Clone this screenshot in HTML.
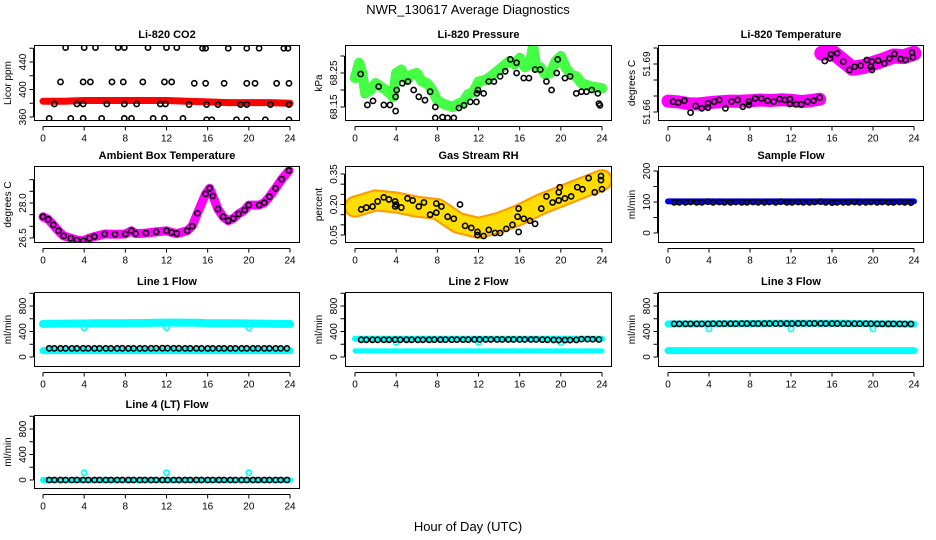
<!DOCTYPE html>
<html><head><meta charset="utf-8"><title>NWR_130617 Average Diagnostics</title>
<style>
html,body{margin:0;padding:0;background:#fff;}
svg{display:block;font-family:"Liberation Sans",Arial,sans-serif;}
</style></head>
<body>
<svg id="chart" width="936" height="540" viewBox="0 0 936 540" xmlns="http://www.w3.org/2000/svg">
<text x="468" y="14" text-anchor="middle" font-size="13">NWR_130617  Average Diagnostics</text>
<text x="468" y="531" text-anchor="middle" font-size="13">Hour of Day (UTC)</text>
</svg>
<script>
// ---- data ----
const xTicks = [0,4,8,12,16,20,24];
const hourly = [0,1,2,3,4,5,6,7,8,9,10,11,12,13,14,15,16,17,18,19,20,21,22,23,24];
const sampleHours = [0.6,1.1,1.7,2.2,2.8,3.3,3.9,4.4,5.0,5.5,6.1,6.6,7.2,7.7,8.3,8.8,9.4,9.9,10.5,11.0,11.6,12.1,12.7,13.2,13.8,14.3,14.9,15.4,16.0,16.5,17.1,17.6,18.2,18.7,19.3,19.8,20.4,20.9,21.5,22.0,22.6,23.1,23.7];

// CO2
const co2BandHours = [0,2,4,6,8,10,12,14,16,18,20,22,24];
const co2Band = [383,383,384,384,384,384,384,383,382,381,381,381,380];
const co2PtHours = [2.2,4,5.1,7.3,7.9,10.2,12,13,15.5,15.8,18,19.8,21,23.4,23.8, 1.7,3.9,4.6,6.7,7.8,9.7,11.8,12.5,14.7,15.8,17.6,19.8,20.6,22.7,23.9, 1.1,3.3,3.9,6.2,7.9,9.1,11.4,11.9,14.2,15.9,17,19.2,19.8,22.1,23.9, 0.6,2.7,3.9,5.7,7.9,8.6,10.7,11.8,13.6,15.9,16.4,18.8,19.8,21.6,23.9];
const co2PtValues = [461,461,461,461,461,461,461,461,460,460,460,460,460,460,460, 411,411,411,411,411,411,411,411,409,409,409,409,409,409,409, 379,379,379,379,379,379,379,379,378,378,378,378,378,378,378, 358,358,358,358,358,358,358,358,358,356,356,356,356,356,356];

// Pressure
const presBandHours = [0,0.4,0.7,1,1.5,2,2.5,3,3.7,4,4.5,5,5.5,6,6.5,7,7.5,8,8.5,9,9.5,10,10.5,11,11.5,12,12.5,13,14,15,15.5,16,16.5,17,17.3,17.6,18,18.5,19,19.5,20,20.5,21,21.5,22,23,24];
const presBand = [68.235,68.28,68.25,68.19,68.2,68.22,68.21,68.2,68.18,68.25,68.26,68.23,68.245,68.25,68.225,68.22,68.2,68.17,68.16,68.155,68.15,68.159,68.165,68.188,68.194,68.225,68.228,68.235,68.26,68.285,68.276,68.294,68.267,68.276,68.33,68.27,68.267,68.245,68.25,68.285,68.3,68.264,68.245,68.24,68.22,68.21,68.205];
const presPtHours = [0.55,1.2,1.75,2.3,2.8,3.4,3.95,3.95,4.05,4.6,5.15,5.7,6.2,6.8,7.3,7.8,7.8,8.5,9,9.6,10.1,10.6,11.2,11.8,11.85,11.95,12.5,13,13.5,14.1,14.6,15.1,15.7,15.7,16.4,16.9,17.5,18,18.6,19.1,19.6,19.7,20.4,20.9,21.5,22,22.5,23,23.6,23.7,23.8];
const presPtValues = [68.247,68.156,68.168,68.21,68.156,68.156,68.138,68.18,68.2,68.22,68.225,68.2,68.18,68.17,68.195,68.15,68.118,68.12,68.118,68.118,68.147,68.155,68.165,68.165,68.19,68.2,68.19,68.225,68.225,68.24,68.255,68.29,68.28,68.25,68.235,68.235,68.26,68.26,68.225,68.2,68.25,68.29,68.235,68.24,68.19,68.195,68.195,68.2,68.19,68.16,68.155];

// Li-820 temperature
const tempLowHours = [0,1,2,3,4,5,6,7,8,9,10,11,12,13,14,14.8];
const tempLow = [51.6668,51.6663,51.6652,51.665,51.6658,51.6664,51.6668,51.6667,51.667,51.6675,51.6672,51.6676,51.6674,51.6665,51.6672,51.668];
const tempHighHours = [15,16,17,18,19,20,21,22,23,24];
const tempHigh = [51.6967,51.6977,51.6925,51.6873,51.6883,51.6904,51.6925,51.695,51.6946,51.6967];
const tempPtHours = [0.5,1,1.6,2.2,2.7,3.3,3.9,3.9,4.5,5,5.6,6.2,6.8,7.3,7.9,7.9,8.5,9.1,9.7,10.3,10.9,11.4,11.9,11.9,12.5,13,13.6,14.2,14.8, 15.3,15.8,15.9,16.5,17.1,17.7,18.2,18.8,19.4,19.8,19.9,19.9,20.5,21.1,21.6,22.1,22.7,23.2,23.8,23.9];
const tempPtValues = [51.6665,51.6658,51.6671,51.6596,51.6638,51.6623,51.6654,51.6627,51.6665,51.6675,51.6623,51.6665,51.6675,51.6633,51.6665,51.6644,51.6685,51.6685,51.6671,51.6665,51.6681,51.6675,51.6681,51.665,51.6648,51.6648,51.6665,51.6671,51.669, 51.6919,51.6935,51.696,51.6967,51.6915,51.6863,51.6883,51.689,51.6925,51.6883,51.6863,51.6915,51.6921,51.6904,51.6935,51.6963,51.6931,51.6925,51.6973,51.6942];

// Ambient box temperature
const ambHours = [0,0.5,1,1.5,2,2.7,3.3,3.9,4.5,5,6,7,8,8.6,9,10,11,12,12.5,13,14,14.5,15,15.8,16.2,16.5,17,17.5,18,18.5,19,19.6,20,21,21.5,22,22.6,23.2,23.9];
const ambValues = [27.41,27.30,27.06,26.81,26.59,26.49,26.41,26.38,26.49,26.56,26.67,26.66,26.67,26.81,26.69,26.71,26.76,26.81,26.74,26.69,26.81,27.01,27.56,28.39,28.63,28.30,27.74,27.41,27.24,27.34,27.53,27.70,27.91,27.91,28.01,28.27,28.63,29.02,29.39];

// Gas stream RH
const rhBandHours = [0,2,4,6,8,10,12,14,16,18,20,22,24];
const rhBand = [0.189,0.22,0.21,0.189,0.178,0.11,0.085,0.11,0.15,0.2,0.24,0.28,0.32];
const rhPtHours = [0.6,1.1,1.7,2.2,2.8,3.3,3.9,3.9,4.0,4.5,5.1,5.6,6.2,6.7,7.3,7.9,7.9,8.4,9.0,9.6,10.2,10.7,11.3,11.9,11.9,12.5,13.0,13.6,14.1,14.7,15.3,15.8,15.9,15.9,16.4,17.0,17.5,18.1,18.6,19.2,19.8,19.8,19.9,20.4,21.0,21.6,22.1,22.7,23.3,23.9,23.9,24];
const rhPtValues = [0.176,0.185,0.19,0.215,0.235,0.225,0.215,0.19,0.2,0.185,0.23,0.22,0.19,0.21,0.15,0.205,0.16,0.19,0.14,0.13,0.2,0.095,0.085,0.065,0.05,0.045,0.075,0.06,0.06,0.08,0.1,0.14,0.18,0.065,0.13,0.12,0.105,0.18,0.24,0.21,0.22,0.26,0.285,0.23,0.24,0.285,0.275,0.33,0.26,0.34,0.32,0.275];

// Sample flow
const sampleBand = [102,102,102,102,102,102,102,102,102,102,102,102,102,102,102,102,102,102,102,102,102,102,102,102,102];
const sampleBlack = [99,99,99,100,99,99,101,99,100,99,99,100,99,99,100,99,99,100,99,101,99,99,100,99,99,100,101,99,98,99,99,99,100,99,99,100,99,100,99,99,100,99,98];

// Line flows
const line1High = [520,522,524,525,526,528,528,530,530,532,534,536,540,540,538,536,530,530,528,528,526,524,522,520,520];
const line1Low = [100,100,100,100,100,100,100,100,100,100,100,100,100,100,100,100,100,100,100,100,100,100,100,100,100];
const line1Black = [135,135,135,135,135,135,136,135,135,135,135,135,135,136,135,135,135,135,136,137,138,138,137,136,135,135,135,135,134,135,135,135,135,135,135,135,135,135,135,135,135,135,135];
const line1DipHours = [4,12,20];
const line1Dips = [455,460,455];

const line2High = [285,285,285,285,285,285,285,285,285,285,285,285,285,285,285,285,285,285,285,285,285,285,285,285,285];
const line2Low = [95,95,95,95,95,95,95,95,95,95,95,95,95,95,95,95,95,95,95,95,95,95,95,95,95];
const line2Black = [270,270,270,270,270,270,272,270,270,270,270,270,270,272,272,272,272,272,272,272,274,274,275,275,275,275,275,275,274,274,274,274,272,270,268,266,266,266,268,280,280,278,275];
const line2DipHours = [4,12,20];
const line2Dips = [230,230,225];

const line3High = [520,520,520,520,522,522,524,524,526,526,528,528,530,530,530,530,528,528,526,524,522,520,520,518,516];
const line3Low = [100,100,100,100,100,100,100,100,100,100,100,100,100,100,100,100,100,100,100,100,100,100,100,100,100];
const line3Black = [520,520,520,520,520,520,520,522,522,522,522,522,524,524,524,524,524,524,524,524,524,524,526,526,526,526,526,524,524,524,522,522,522,522,522,522,520,520,520,520,520,518,518];
const line3DipHours = [4,12,20];
const line3Dips = [440,440,440];

const line4Cyan = [0,0,0,0,0,0,0,0,0,0,0,0,0,0,0,0,0,0,0,0,0,0,0,0,0];
const line4Black = [0,0,0,0,0,0,0,0,0,0,0,0,0,0,0,0,0,0,0,0,0,0,0,0,0,0,0,0,0,0,0,0,0,0,0,0,0,0,0,0,0,0,0];
const line4SpikeHours = [4,12,20];
const line4Spikes = [115,115,115];

// ---- drawing ----
const NS = "http://www.w3.org/2000/svg";
const svg = document.getElementById('chart');
function mk(tag, attrs, parent){
  const e = document.createElementNS(NS, tag);
  for (const k in attrs) e.setAttribute(k, attrs[k]);
  (parent||svg).appendChild(e);
  return e;
}
const cols = [{l:34,r:300,x0:43,x24:290},{l:345,r:612,x0:355,x24:602},{l:658,r:924,x0:668,x24:914}];
const rows = [{t:45,b:121},{t:166,b:243},{t:292,b:367},{t:415,b:489}];

function panel(ci, ri, name, title, ylab, v1, p1, v2, p2, ticks, labels){
  const c = cols[ci], r = rows[ri];
  const g = mk('g', {});
  
  
  const xs = h => c.x0 + (c.x24 - c.x0) * h / 24;
  const ys = v => p1 + (p2 - p1) * (v - v1) / (v2 - v1);
  const clip = mk('clipPath', {id:'clip-'+name}, g);
  mk('rect', {x:c.l, y:r.t, width:c.r-c.l, height:r.b-r.t}, clip);
  const plot = mk('g', {'clip-path':'url(#clip-'+name+')'}, g);
  
  
  const box = mk('rect', {x:c.l+0.5, y:r.t+0.5, width:c.r-c.l-1, height:r.b-r.t-1, fill:'none', stroke:'#000', 'stroke-width':1}, g);
  
  
  const t = mk('text', {x:(c.l+c.r)/2, y:r.t-7, 'text-anchor':'middle', 'font-size':11, 'font-weight':'bold'}, g);
  t.textContent = title;
  
  
  const yl = mk('text', {x:0, y:0, 'text-anchor':'middle', 'font-size':10, transform:'translate('+(c.l-23)+','+((r.t+r.b)/2)+') rotate(-90)'}, g);
  yl.textContent = ylab;
  
  
  const ax = mk('g', {}, g);
  
  
  const ay = r.b + 5.5;
  mk('line', {x1:xs(xTicks[0]), x2:xs(xTicks[xTicks.length-1]), y1:ay, y2:ay, stroke:'#000'}, ax);
  xTicks.forEach(h => {
    mk('line', {x1:xs(h), x2:xs(h), y1:ay, y2:ay+4, stroke:'#000'}, ax);
    const tl = mk('text', {x:xs(h), y:ay+15, 'text-anchor':'middle', 'font-size':10}, ax);
    tl.textContent = String(h);
    
    
  });
  const yax = mk('g', {}, g);
  
  
  const axx = c.l - 0.5;
  mk('line', {x1:axx, x2:axx, y1:ys(ticks[0]), y2:ys(ticks[ticks.length-1]), stroke:'#000'}, yax);
  ticks.forEach(v => mk('line', {x1:axx-4, x2:axx, y1:ys(v), y2:ys(v), stroke:'#000'}, yax));
  labels.forEach(lab => {
    const y = ys(parseFloat(lab));
    const tl = mk('text', {x:0, y:0, 'text-anchor':'middle', 'font-size':10, transform:'translate('+(c.l-8)+','+y+') rotate(-90)'}, yax);
    tl.textContent = lab;
    
    
  });
  return {plot, xs, ys};
}
function band(p, hours, vals, color, w, name, dash){
  const pts = hours.map((h,i) => p.xs(h).toFixed(1)+','+p.ys(vals[i]).toFixed(1)).join(' ');
  const e = mk('polyline', {points:pts, fill:'none', stroke:color, 'stroke-width':w, 'stroke-linecap':'round', 'stroke-linejoin':'round'}, p.plot);
  if (dash) e.setAttribute('stroke-dasharray', dash);
  
  
  return e;
}
function pts(p, hours, vals, color, name, r){
  hours.forEach((h,i) => {
    const e = mk('circle', {cx:p.xs(h), cy:p.ys(vals[i]), r:r||2.6, fill:'none', stroke:color, 'stroke-width':1.6}, p.plot);
    
    
  });
}

let p = panel(0,0,'co2-panel','Li-820 CO2','Licor ppm',360,117,440,62,[360,380,400,420,440,460],['360','400','440']);
band(p, co2BandHours, co2Band, '#ff0000', 7, 'co2-band');
pts(p, co2PtHours, co2PtValues, '#000', 'co2-point');

p = panel(1,0,'pressure-panel','Li-820 Pressure','kPa',68.15,107,68.25,73,[68.15,68.20,68.25,68.30],['68.15','68.25']);
band(p, presBandHours, presBand, '#00dd00', 10, 'pressure-band');
band(p, presBandHours, presBand, '#44ff44', 10, 'pressure-band-texture', '1 2');
pts(p, presPtHours, presPtValues, '#000', 'pressure-point');

p = panel(2,0,'li820-temp-panel','Li-820 Temperature','degrees C',51.66,112,51.69,64,[51.66,51.67,51.68,51.69,51.70],['51.66','51.69']);
band(p, tempLowHours, tempLow, '#ff00ff', 13, 'li820-temp-band-low');
band(p, tempHighHours, tempHigh, '#ff00ff', 15, 'li820-temp-band-high');
pts(p, tempPtHours, tempPtValues, '#000', 'li820-temp-point');

p = panel(0,1,'ambient-temp-panel','Ambient Box Temperature','degrees C',26.5,238,28.0,203,[26.5,27.0,27.5,28.0,28.5,29.0],['26.5','28.0']);
band(p, ambHours, ambValues, '#ff00ff', 9, 'ambient-temp-band');
pts(p, ambHours, ambValues, '#000', 'ambient-temp-point');

p = panel(1,1,'rh-panel','Gas Stream RH','percent',0.05,235,0.35,174,[0.05,0.10,0.15,0.20,0.25,0.30,0.35],['0.05','0.20','0.35']);
band(p, rhBandHours, rhBand, '#ff9a00', 22, 'rh-band');
band(p, rhBandHours, rhBand, '#ffdd00', 18, 'rh-band-texture', '2 2');
pts(p, rhPtHours, rhPtValues, '#000', 'rh-point');

p = panel(2,1,'sample-flow-panel','Sample Flow','ml/min',0,233,200,171,[0,50,100,150,200],['0','100','200']);
band(p, hourly, sampleBand, '#0000ff', 6, 'sample-flow-band');
pts(p, sampleHours, sampleBlack, '#000', 'sample-flow-point');

p = panel(0,2,'line1-flow-panel','Line 1 Flow','ml/min',0,357,800,306,[0,200,400,600,800,1000],['0','400','800']);
band(p, hourly, line1High, '#00ffff', 8, 'line1-flow-high-band');
band(p, hourly, line1Low, '#00ffff', 7, 'line1-flow-low-band');
pts(p, line1DipHours, line1Dips, '#00ffff', 'line1-flow-dip');
pts(p, sampleHours, line1Black, '#000', 'line1-flow-point');

p = panel(1,2,'line2-flow-panel','Line 2 Flow','ml/min',0,357,800,306,[0,200,400,600,800,1000],['0','400','800']);
band(p, hourly, line2High, '#00ffff', 6, 'line2-flow-high-band');
band(p, hourly, line2Low, '#00ffff', 5, 'line2-flow-low-band');
pts(p, line2DipHours, line2Dips, '#00ffff', 'line2-flow-dip');
pts(p, sampleHours, line2Black, '#000', 'line2-flow-point');

p = panel(2,2,'line3-flow-panel','Line 3 Flow','ml/min',0,357,800,306,[0,200,400,600,800,1000],['0','400','800']);
band(p, hourly, line3High, '#00ffff', 7, 'line3-flow-high-band');
band(p, hourly, line3Low, '#00ffff', 7, 'line3-flow-low-band');
pts(p, line3DipHours, line3Dips, '#00ffff', 'line3-flow-dip');
pts(p, sampleHours, line3Black, '#000', 'line3-flow-point');

p = panel(0,3,'line4-flow-panel','Line 4 (LT) Flow','ml/min',0,480,800,429,[0,200,400,600,800,1000],['0','400','800']);
band(p, hourly, line4Cyan, '#00ffff', 6, 'line4-flow-band');
pts(p, line4SpikeHours, line4Spikes, '#00ffff', 'line4-flow-spike');
pts(p, sampleHours, line4Black, '#000', 'line4-flow-point');
</script>
</body></html>
